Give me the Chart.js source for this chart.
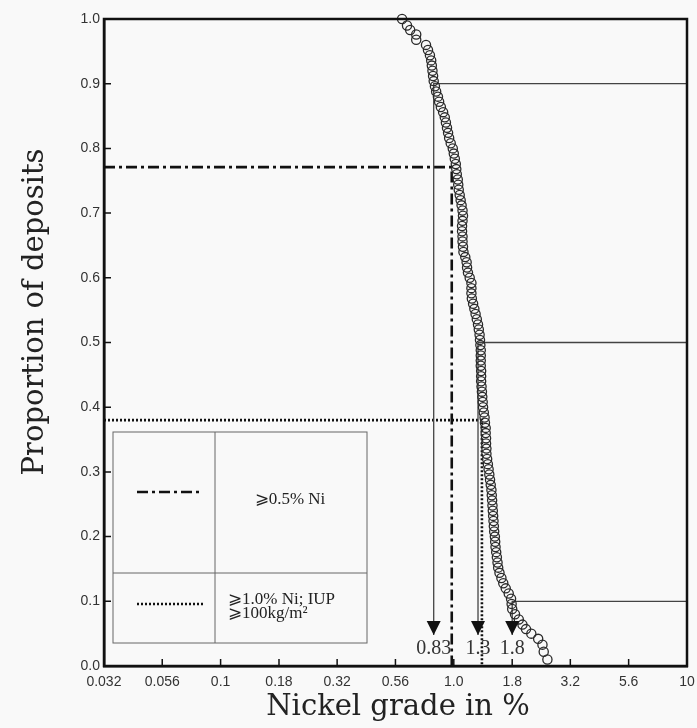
<!DOCTYPE html>
<html>
<head>
<meta charset="utf-8">
<script src="https://cdn.jsdelivr.net/npm/chart.js@4.4.1/dist/chart.umd.min.js"></script>
<style>
  html, body { margin: 0; padding: 0; background: #f9f9f9; }
  canvas { display: block; }
</style>
</head>
<body>
<canvas id="chart" width="697" height="728"></canvas>
<script>
// nickel grade (%) of each deposit
const grades = [
  0.60, 0.63, 0.65, 0.69, 0.69, 0.76, 0.775, 0.79,
  0.80, 0.805, 0.81, 0.815, 0.82, 0.83, 0.84, 0.855,
  0.865, 0.88, 0.90, 0.915, 0.925, 0.935, 0.945, 0.955,
  0.97, 0.99, 1.00, 1.01, 1.02, 1.025, 1.03, 1.04,
  1.045, 1.05, 1.06, 1.07, 1.08, 1.09, 1.095, 1.09,
  1.085, 1.085, 1.09, 1.09, 1.095, 1.10, 1.12, 1.135,
  1.14, 1.15, 1.17, 1.19, 1.19, 1.19, 1.195, 1.21,
  1.225, 1.24, 1.255, 1.27, 1.28, 1.29, 1.295, 1.30,
  1.305, 1.305, 1.305, 1.305, 1.31, 1.31, 1.31, 1.315,
  1.32, 1.325, 1.33, 1.335, 1.345, 1.355, 1.36, 1.37,
  1.37, 1.375, 1.375, 1.38, 1.38, 1.39, 1.40, 1.41,
  1.42, 1.43, 1.44, 1.45, 1.455, 1.46, 1.465, 1.47,
  1.475, 1.48, 1.485, 1.49, 1.50, 1.505, 1.51, 1.52,
  1.53, 1.54, 1.55, 1.57, 1.60, 1.63, 1.67, 1.72,
  1.76, 1.77, 1.78, 1.83, 1.90, 1.97, 2.04, 2.15,
  2.30, 2.40, 2.43, 2.52,
]

// proportion of deposits at or above that grade
const proportions = [
  1.000, 0.990, 0.983, 0.976, 0.968, 0.960, 0.952, 0.944,
  0.936, 0.928, 0.920, 0.912, 0.904, 0.896, 0.888, 0.880,
  0.872, 0.864, 0.856, 0.848, 0.840, 0.832, 0.824, 0.816,
  0.808, 0.800, 0.792, 0.784, 0.776, 0.768, 0.760, 0.752,
  0.744, 0.736, 0.728, 0.720, 0.712, 0.704, 0.696, 0.688,
  0.680, 0.672, 0.664, 0.656, 0.648, 0.640, 0.632, 0.624,
  0.616, 0.608, 0.600, 0.592, 0.584, 0.576, 0.568, 0.560,
  0.552, 0.544, 0.536, 0.528, 0.520, 0.512, 0.504, 0.496,
  0.488, 0.480, 0.472, 0.464, 0.456, 0.448, 0.440, 0.432,
  0.424, 0.416, 0.408, 0.400, 0.392, 0.384, 0.376, 0.368,
  0.360, 0.352, 0.344, 0.336, 0.328, 0.320, 0.312, 0.304,
  0.296, 0.288, 0.280, 0.272, 0.264, 0.256, 0.248, 0.240,
  0.232, 0.224, 0.216, 0.208, 0.200, 0.192, 0.184, 0.176,
  0.168, 0.160, 0.152, 0.144, 0.136, 0.128, 0.120, 0.112,
  0.104, 0.096, 0.088, 0.080, 0.072, 0.064, 0.057, 0.050,
  0.042, 0.033, 0.022, 0.010,
]

const xTickValues = [0.0316, 0.0562, 0.1, 0.178, 0.316, 0.562, 1, 1.78, 3.16, 5.62, 10]
const xTickLabels = ["0.032", "0.056", "0.1", "0.18", "0.32", "0.56", "1.0", "1.8", "3.2", "5.6", "10"]

// percentile guides: 90th, 50th, 10th
const guideProportions = [0.9, 0.5, 0.1]
const guideGrades = [0.82, 1.27, 1.78]
const guideLabels = ["0.83", "1.3", "1.8"]
const arrowTip = 0.048

// cut-off scenarios
const cutoffGrades = [0.98, 1.32]
const cutoffProportions = [0.771, 0.38]
const cutoffLabels = [["⩾0.5% Ni"], ["⩾1.0% Ni; IUP", "⩾100kg/m²"]]
const cutoffDashes = [[11, 4, 3, 4], [2, 2]]

const X_MIN = 0.031623
const X_MAX = 10
const INK = "#111"
const SERIF = "'Liberation Serif', 'Times New Roman', serif"

const datasets = [
  {
    data: grades.map((g, i) => ({ x: g, y: proportions[i] })),
    showLine: false,
    pointStyle: "circle",
    pointRadius: 4.6,
    pointBorderWidth: 1.3,
    pointBorderColor: "#2a2a2a",
    pointBackgroundColor: "rgba(0,0,0,0)",
    clip: false,
  },
]

guideGrades.forEach((g, i) => {
  datasets.push({
    data: [
      { x: X_MAX, y: guideProportions[i] },
      { x: g, y: guideProportions[i] },
      { x: g, y: arrowTip },
    ],
    showLine: true,
    borderColor: "#444",
    borderWidth: 1.3,
    pointRadius: 0,
  })
})

cutoffGrades.forEach((g, i) => {
  datasets.push({
    data: [
      { x: X_MIN, y: cutoffProportions[i] },
      { x: g, y: cutoffProportions[i] },
      { x: g, y: 0 },
    ],
    showLine: true,
    borderColor: INK,
    borderWidth: 2.6,
    borderDash: cutoffDashes[i],
    pointRadius: 0,
  })
})

const decor = {
  id: "decor",
  afterDraw(chart) {
    const { ctx, chartArea: a, scales } = chart
    const { x, y } = scales
    ctx.save()

    // frame
    ctx.strokeStyle = INK
    ctx.lineWidth = 2.5
    ctx.strokeRect(a.left, a.top, a.right - a.left, a.bottom - a.top)

    // inward ticks
    ctx.lineWidth = 1.5
    ctx.beginPath()
    x.ticks.forEach((t) => {
      const px = x.getPixelForValue(t.value)
      ctx.moveTo(px, a.bottom)
      ctx.lineTo(px, a.bottom - 7)
    })
    y.ticks.forEach((t) => {
      const py = y.getPixelForValue(t.value)
      ctx.moveTo(a.left, py)
      ctx.lineTo(a.left + 7, py)
    })
    ctx.stroke()

    // arrowheads + labels
    const tipY = y.getPixelForValue(arrowTip)
    ctx.fillStyle = INK
    guideGrades.forEach((g) => {
      const px = x.getPixelForValue(g)
      ctx.beginPath()
      ctx.moveTo(px, tipY)
      ctx.lineTo(px - 7, tipY - 14)
      ctx.lineTo(px + 7, tipY - 14)
      ctx.closePath()
      ctx.fill()
    })
    ctx.fillStyle = "#333"
    ctx.font = "20px " + SERIF
    ctx.textAlign = "center"
    ctx.textBaseline = "middle"
    guideGrades.forEach((g, i) => {
      ctx.fillText(guideLabels[i], x.getPixelForValue(g), tipY + 14)
    })

    // legend table
    const bx = a.left + 9, by = a.top + 413, bw = 254, bh = 211
    const colX = bx + 102, rowY = by + 141
    ctx.strokeStyle = "#666"
    ctx.lineWidth = 1
    ctx.strokeRect(bx, by, bw, bh)
    ctx.beginPath()
    ctx.moveTo(colX, by)
    ctx.lineTo(colX, by + bh)
    ctx.moveTo(bx, rowY)
    ctx.lineTo(bx + bw, rowY)
    ctx.stroke()

    const rowMid = [by + 60, rowY + 31]
    ctx.strokeStyle = INK
    ctx.lineWidth = 2.6
    cutoffDashes.forEach((d, i) => {
      ctx.setLineDash(d)
      ctx.beginPath()
      ctx.moveTo(bx + 24, rowMid[i])
      ctx.lineTo(bx + 90, rowMid[i])
      ctx.stroke()
    })
    ctx.setLineDash([])

    ctx.fillStyle = "#222"
    ctx.font = "17px " + SERIF
    ctx.textAlign = "center"
    ctx.fillText(cutoffLabels[0][0], colX + 75, rowMid[0] + 8)
    ctx.textAlign = "left"
    ctx.fillText(cutoffLabels[1][0], colX + 13, rowMid[1] - 4)
    ctx.fillText(cutoffLabels[1][1], colX + 13, rowMid[1] + 10)

    // axis titles
    ctx.fillStyle = "#222"
    ctx.font = "29px 'DejaVu Serif', serif"
    ctx.textAlign = "center"
    ctx.fillText("Nickel grade in %", 398, 707)
    ctx.translate(35, 312)
    ctx.rotate(-Math.PI / 2)
    ctx.fillText("Proportion of deposits", 0, 0)

    ctx.restore()
  },
}

new Chart(document.getElementById("chart"), {
  type: "scatter",
  data: { datasets },
  options: {
    responsive: false,
    animation: false,
    layout: { padding: { top: 19, right: 10, bottom: 0, left: 0 } },
    plugins: {
      legend: { display: false },
      tooltip: { enabled: false },
    },
    scales: {
      x: {
        type: "logarithmic",
        min: X_MIN,
        max: X_MAX,
        afterBuildTicks: (scale) => {
          scale.ticks = xTickValues.map((v) => ({ value: v }))
        },
        afterFit: (scale) => {
          scale.height = 62
          scale.paddingLeft = 0
          scale.paddingRight = 0
        },
        grid: { drawOnChartArea: false, drawTicks: false },
        border: { color: INK, width: 2.5 },
        ticks: {
          autoSkip: false,
          maxRotation: 0,
          padding: 8,
          color: "#333",
          font: { family: "'Liberation Sans', Arial, sans-serif", size: 14 },
          callback: (value, index) => xTickLabels[index],
        },
      },
      y: {
        min: 0,
        max: 1,
        afterFit: (scale) => {
          scale.width = 104
        },
        grid: { drawOnChartArea: false, drawTicks: false },
        border: { color: INK, width: 2.5 },
        ticks: {
          stepSize: 0.1,
          padding: 4,
          color: "#333",
          font: { family: "'Liberation Sans', Arial, sans-serif", size: 14 },
          callback: (value) => value.toFixed(1),
        },
      },
    },
  },
  plugins: [decor],
})
</script>
</body>
</html>
